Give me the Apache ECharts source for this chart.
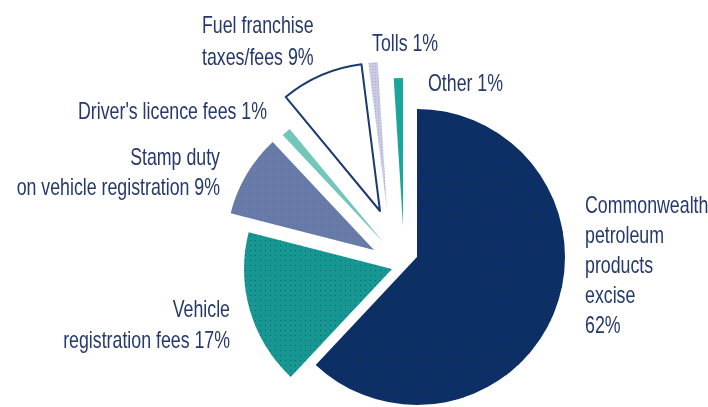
<!DOCTYPE html>
<html><head><meta charset="utf-8">
<script src="https://cdn.jsdelivr.net/npm/echarts@6/dist/echarts.min.js"></script>
<style>html,body{margin:0;padding:0;background:#fff}#c{width:708px;height:407px}</style>
</head><body><div id="c"></div>
<script>
// ---- data ----
const categories = [
  "Commonwealth petroleum products excise",
  "Vehicle registration fees",
  "Stamp duty on vehicle registration",
  "Driver's licence fees",
  "Fuel franchise taxes/fees",
  "Tolls",
  "Other"
];
const values = [62, 17, 9, 1, 9, 1, 1];
// label lines; {v} is replaced by the value with a percent sign
const labelLines = [
  ["Commonwealth", "petroleum", "products", "excise", "{v}"],
  ["Vehicle", "registration fees {v}"],
  ["Stamp duty", "on vehicle registration {v}"],
  ["Driver's licence fees {v}"],
  ["Fuel franchise", "taxes/fees {v}"],
  ["Tolls {v}"],
  ["Other {v}"]
];

// ---- styles / layout ----
const colors = ["#0c3064", "#179791", "#6a7ca8", "#72c6ba", "#ffffff", "#c9cbe0", "#1aa69c"];
const borders = [null, null, null, null, "#1c3a6e", null, null];
const decals = [
  {symbol: 'rect', symbolSize: 1, color: '#1c1f88', dashArrayX: [2, 9], dashArrayY: [2, 9]},
  {symbol: 'rect', symbolSize: 1, color: 'rgba(16,70,120,0.75)', dashArrayX: [1, 4], dashArrayY: [1, 4]},
  {symbol: 'rect', symbolSize: 1, color: 'rgba(70,95,160,0.3)', dashArrayX: [1, 1], dashArrayY: [1, 1]},
  null, null,
  {symbol: 'rect', symbolSize: 1, color: 'rgba(150,150,220,0.6)', dashArrayX: [1, 2], dashArrayY: [1, 2]},
  null
];
// exploded slice apex positions
const apex = [[417,257],[392,269],[374,250],[384,243],[380,211],[387,210],[403,226]];
const R = 148;
const labelPos = [
  {x:585, b:215, lh:30, align:'left'},
  {x:230, b:319, lh:31, align:'right'},
  {x:220, b:167, lh:30, align:'right'},
  {x:267, b:121, lh:30, align:'right'},
  {x:202, b:35,  lh:32, align:'left'},
  {x:372, b:53,  lh:30, align:'left'},
  {x:428, b:93,  lh:30, align:'left'}
];
const textColor = "#25396b";
const FONT = 24, SX = 0.74;

const series = categories.map((c, i) => ({
  type: 'pie',
  center: apex[i],
  radius: R,
  startAngle: 90,
  clockwise: true,
  silent: true,
  animation: false,
  label: {show: false},
  labelLine: {show: false},
  emphasis: {disabled: true},
  data: values.map((v, j) => {
    let st;
    if (j === i) {
      st = {color: colors[i], borderWidth: 0};
      if (borders[i]) { st.borderColor = borders[i]; st.borderWidth = 2; }
      if (decals[i]) st.decal = decals[i];
    } else {
      st = {color: 'rgba(0,0,0,0)', borderWidth: 0};
    }
    return {name: categories[j], value: v, itemStyle: st};
  })
}));

const graphic = labelLines.map((lines, i) => {
  const p = labelPos[i];
  const txt = lines.map(l => l.replace('{v}', values[i] + '%')).join('\n');
  return {
    type: 'text',
    x: p.x,
    y: p.b - (p.lh / 2 + 8.5),
    scaleX: SX,
    silent: true,
    style: {
      text: txt,
      fontSize: FONT,
      fontFamily: '"Liberation Sans", Arial, sans-serif',
      fill: textColor,
      align: p.align,
      textAlign: p.align,
      verticalAlign: 'top',
      textVerticalAlign: 'top',
      lineHeight: p.lh
    }
  };
});

const chart = echarts.init(document.getElementById('c'), null, {renderer: 'canvas'});
chart.setOption({
  backgroundColor: '#ffffff',
  animation: false,
  series: series,
  graphic: graphic
});
</script>
</body></html>
